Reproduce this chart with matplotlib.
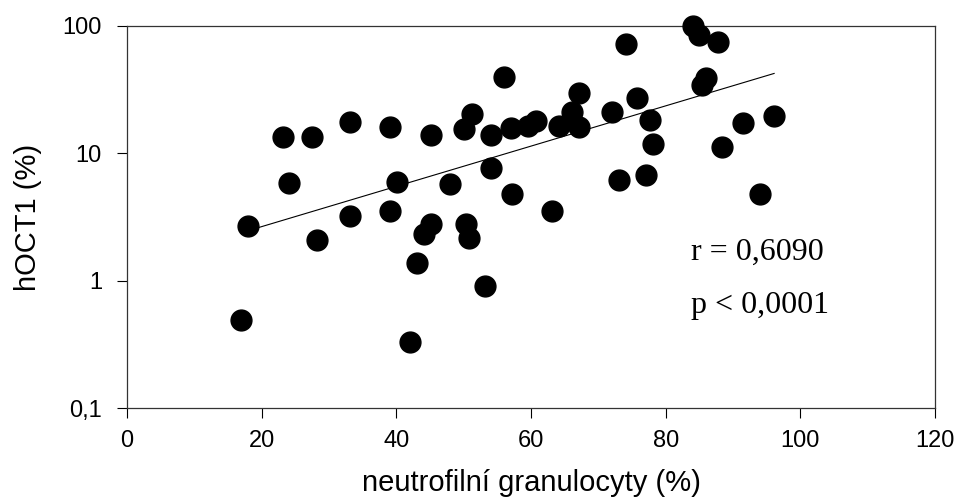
import matplotlib
matplotlib.use("Agg")
import matplotlib.pyplot as plt
from matplotlib.ticker import FixedLocator, FixedFormatter, NullLocator
import numpy as np

# values
neutro = [17.0, 18.0, 23.1, 24.1, 27.5, 28.2, 33.1, 33.1, 39.0, 39.0,
          40.1, 42.0, 43.0, 44.1, 45.1, 45.1, 48.0, 50.1, 50.3, 50.8,
          51.2, 53.2, 54.1, 54.1, 56.0, 57.1, 57.2, 59.6, 60.8, 63.1,
          64.1, 66.1, 67.1, 67.1, 72.0, 73.0, 74.1, 75.7, 77.0, 77.6,
          78.1, 84.0, 84.9, 87.7, 86.0, 85.4, 88.3, 91.5, 94.0, 96.1]
hoct1 = [0.49, 2.7, 13.4, 5.8, 13.4, 2.07, 17.6, 3.2, 16.1, 3.55,
         6.0, 0.33, 1.38, 2.34, 2.79, 14.0, 5.7, 15.6, 2.79, 2.16,
         20.5, 0.90, 13.8, 7.7, 40.0, 15.8, 4.8, 16.3, 17.8, 3.5,
         16.3, 21.0, 29.8, 16.1, 21.0, 6.2, 71.4, 26.9, 6.7, 18.2,
         11.9, 99.5, 85.5, 75.0, 39.0, 34.6, 11.1, 17.3, 4.8, 19.5]

# trend line as drawn in the picture: log10(y) = intercept + slope * x
trend_intercept = 0.108
trend_slope = 0.0158

y_ticks = [0.1, 1, 10, 100]
y_tick_labels = ["0,1", "1", "10", "100"]
x_ticks = [0, 20, 40, 60, 80, 100, 120]
stat_lines = ["r = 0,6090", "p < 0,0001"]

plt.rcParams["font.family"] = ["Liberation Sans", "DejaVu Sans"]

fig = plt.figure(figsize=(9.62, 4.97), dpi=100)
ax = fig.add_axes([0.132, 0.179, 0.840, 0.769])

x = np.array(neutro)
y = np.array(hoct1)

xl = np.array([x.min(), x.max()])
ax.plot(xl, 10 ** (trend_intercept + trend_slope * xl), color="black", lw=0.8, zorder=2)

ax.plot(x, y, "o", color="black", ms=15, mec="black", zorder=3, clip_on=False)

ax.set_yscale("log")
ax.set_xlim(0, 120)
ax.set_ylim(0.1, 100)
ax.yaxis.set_major_locator(FixedLocator(y_ticks))
ax.yaxis.set_major_formatter(FixedFormatter(y_tick_labels))
ax.yaxis.set_minor_locator(NullLocator())
ax.set_xticks(x_ticks)

ax.tick_params(axis="both", direction="out", length=7, width=0.8,
               labelsize=17, colors="black")
ax.tick_params(axis="y", pad=11)
ax.tick_params(axis="x", pad=9)
for s in ax.spines.values():
    s.set_linewidth(0.9)
    s.set_color("#333333")

ax.set_xlabel("neutrofilní granulocyty (%)", fontsize=21, labelpad=12)
ax.set_ylabel("hOCT1 (%)", fontsize=21, labelpad=15)

ax.text(0.698, 0.387, stat_lines[0], transform=ax.transAxes,
        fontsize=23, family="Liberation Serif", va="baseline")
ax.text(0.698, 0.249, stat_lines[1], transform=ax.transAxes,
        fontsize=23, family="Liberation Serif", va="baseline")

fig.savefig("out.png", dpi=100)
